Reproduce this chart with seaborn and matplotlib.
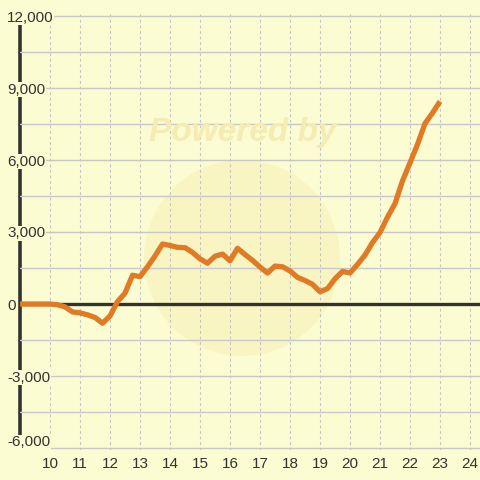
import matplotlib
matplotlib.use("Agg")
import matplotlib.pyplot as plt
import matplotlib.transforms as mtransforms
import seaborn as sns
import pandas as pd
from matplotlib.patches import Ellipse
from matplotlib.ticker import MultipleLocator, NullFormatter

x_values = [9.0, 9.25, 9.5, 9.75, 10.0, 10.25, 10.5, 10.75, 11.0, 11.25, 11.5, 11.75,
            12.0, 12.25, 12.5, 12.75, 13.0, 13.25, 13.5, 13.75, 14.0, 14.25, 14.5, 14.75,
            15.0, 15.25, 15.5, 15.75, 16.0, 16.25, 16.5, 16.75, 17.0, 17.25, 17.5, 17.75,
            18.0, 18.25, 18.5, 18.75, 19.0, 19.25, 19.5, 19.75, 20.0, 20.25, 20.5, 20.75,
            21.0, 21.25, 21.5, 21.75, 22.0, 22.25, 22.5, 22.75, 23.0]
y_values = [0, 0, 0, 0, 0, -30, -120, -330, -370, -450, -560, -800,
            -500, 100, 450, 1200, 1140, 1550, 2000, 2500, 2440, 2360, 2350, 2150,
            1880, 1700, 1990, 2080, 1800, 2320, 2060, 1820, 1540, 1290, 1580, 1550,
            1380, 1110, 980, 820, 510, 640, 1050, 1360, 1290, 1650, 2040, 2560,
            2980, 3620, 4180, 5130, 5880, 6650, 7520, 7960, 8440]
x_ticks = [10, 11, 12, 13, 14, 15, 16, 17, 18, 19, 20, 21, 22, 23, 24]
y_label_ticks = [-6000, -3000, 0, 3000, 6000, 9000, 12000]
y_tick_labels = ["-6,000", "-3,000", "0", "3,000", "6,000", "9,000", "12,000"]

df = pd.DataFrame({"x": x_values, "y": y_values})

BG = "#FCFCD2"
TXT = "#333333"
plt.rcParams['font.family'] = ['Liberation Sans', 'DejaVu Sans']

W = H = 480
fig = plt.figure(figsize=(4.8, 4.8), dpi=100, facecolor=BG)
x0, x1 = 9.0, 9.0 + 460 / 30.0
y0, y1 = -6100, 12100
left_px = 20
bottom_px = 304 + 6100 * 0.024
top_px = 304 - 12100 * 0.024
ax = fig.add_axes([left_px / W, (H - bottom_px) / H, (W - left_px) / W, (bottom_px - top_px) / H])
ax.set_facecolor(BG)
ax.set_xlim(x0, x1)
ax.set_ylim(y0, y1)

for s in ax.spines.values():
    s.set_visible(False)

# watermark
ax.add_patch(Ellipse((16.4, 1917), 196 / 30.0, 196 / 0.024, facecolor="#F3E7A0",
                     edgecolor="none", alpha=0.3, zorder=1))
fig.text(243 / W, 1 - 133 / H, "Powered by", fontsize=24, fontweight="bold", style="italic",
         color="#F4ECB2", ha="center", va="center", zorder=0.5)

# grids
ax.yaxis.set_major_locator(MultipleLocator(1500))
ax.yaxis.set_major_formatter(NullFormatter())
ax.set_xticks(x_ticks)
ax.set_xticklabels([str(t) for t in x_ticks])
ax.grid(axis="y", color="#C8C8C8", linewidth=1.0, linestyle="-")
ax.grid(axis="x", color="#C4C4C4", linewidth=0.8, linestyle=(0, (2.5, 2.5)))
ax.tick_params(axis="both", length=0, labelsize=11, labelcolor=TXT)
ax.tick_params(axis="x", pad=5)

# left axis line and zero line
ax.plot([9.0, 9.0], [-6000, 11700], color=TXT, linewidth=2.6, zorder=1, clip_on=False,
        solid_capstyle="butt")
ax.axhline(0, color=TXT, linewidth=2.4, zorder=2)

# y labels drawn over the axis line with background box
trans = mtransforms.blended_transform_factory(fig.transFigure, ax.transData)
for v, s in zip(y_label_ticks, y_tick_labels):
    tr = trans
    if v == -6000:
        tr = mtransforms.offset_copy(trans, fig=fig, x=0, y=7, units="dots")
    ax.text(7 / W, v, s, transform=tr, ha="left", va="center_baseline", fontsize=11, color=TXT,
            zorder=2.5, clip_on=False,
            bbox=dict(facecolor=BG, edgecolor="none", pad=0.5))

sns.lineplot(data=df, x="x", y="y", ax=ax, color="#E07A24", linewidth=3.8, zorder=3,
             solid_joinstyle="round", solid_capstyle="butt")
ax.set_xlabel("")
ax.set_ylabel("")

fig.savefig("out.png", dpi=100, facecolor=BG)
